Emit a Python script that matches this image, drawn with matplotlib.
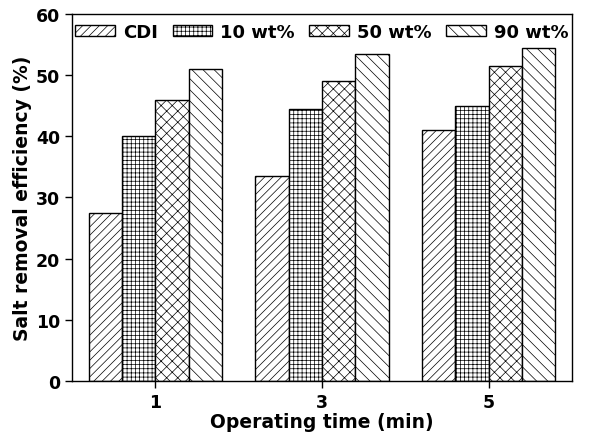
import numpy as np
import matplotlib
matplotlib.use('Agg')
import matplotlib.pyplot as plt

# salt removal efficiency vs operating time
times = [1, 3, 5]
labels = ['CDI', '10 wt%', '50 wt%', '90 wt%']
cdi = [27.5, 33.5, 41.0]
wt10 = [40.0, 44.5, 45.0]
wt50 = [46.0, 49.0, 51.5]
wt90 = [51.0, 53.5, 54.5]
hatches = ['////', '++++', 'xxx', '\\\\\\']

plt.rcParams['font.family'] = 'DejaVu Sans'
plt.rcParams['font.weight'] = 'bold'
plt.rcParams['hatch.linewidth'] = 0.5

fig = plt.figure(figsize=(5.91, 4.39), dpi=100)
ax = fig.add_axes([0.122, 0.130, 0.846, 0.836])

w = 0.4
x = np.array(times, dtype=float)
for k, (vals, lab, h) in enumerate(zip([cdi, wt10, wt50, wt90], labels, hatches)):
  ax.bar(x + (k - 1.5) * w, vals, w, facecolor='white', edgecolor='black',
         hatch=h, linewidth=1.0, label=lab)

ax.set_xlim(0, 6)
ax.set_ylim(0, 60)
ax.set_xticks(times)
ax.set_yticks(np.arange(0, 61, 10))
ax.tick_params(labelsize=12.5, width=1.0, length=5)
for s in ax.spines.values():
  s.set_linewidth(1.0)
ax.set_xlabel('Operating time (min)', fontsize=13.5, fontweight='bold', labelpad=1)
ax.set_ylabel('Salt removal efficiency (%)', fontsize=13.5, fontweight='bold', labelpad=3)

ax.legend(loc='upper center', ncol=4, frameon=False, fontsize=13,
          handlelength=2.2, handleheight=0.6, columnspacing=0.8, handletextpad=0.45,
          borderaxespad=0.1, bbox_to_anchor=(0.5, 1.0))

fig.savefig('out.png', dpi=100)
